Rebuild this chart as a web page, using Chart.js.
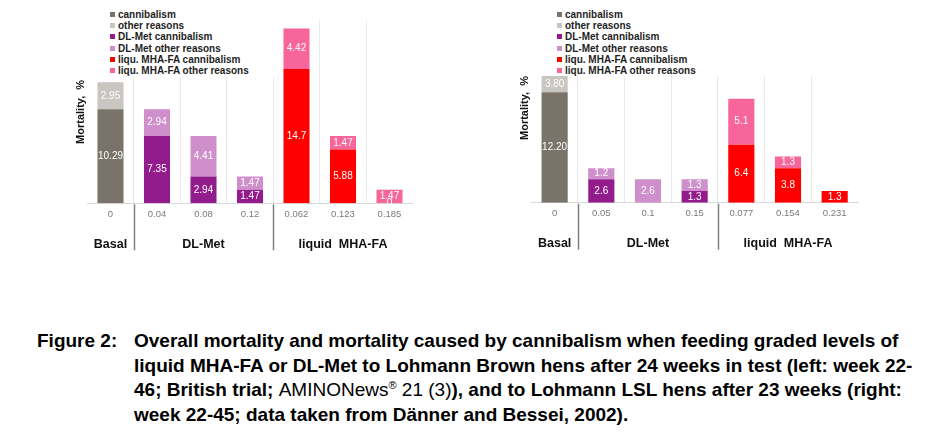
<!DOCTYPE html>
<html>
<head>
<meta charset="utf-8">
<script src="https://cdn.jsdelivr.net/npm/chart.js@4.4.0/dist/chart.umd.min.js"></script>
<style>
  body { margin: 0; background: #fff; width: 945px; height: 441px; overflow: hidden; position: relative; }
  .panel { position: absolute; top: 0; }
  .legend { position: absolute; background: #fff; font: bold 10px "Liberation Sans", Arial, sans-serif; color: #1e1e1e; }
  .legend div { height: 11.2px; line-height: 11.2px; white-space: nowrap; }
  .legend span { display: inline-block; width: 5px; height: 5px; margin-right: 3px; vertical-align: 1px; }
  .caption { position: absolute; font: bold 19px "Liberation Sans Narrow", "Liberation Sans", sans-serif; color: #000; }
  .caption div { height: 24.5px; line-height: 24.5px; white-space: nowrap; }
  .caption .reg { font-weight: normal; }
  .caption sup { font-size: 11px; line-height: 0; }
</style>
</head>
<body>
<div class="panel" style="left:0px;width:460px;height:300px"><canvas id="left" width="460" height="300"></canvas></div>
<div class="panel" style="left:460px;width:485px;height:300px"><canvas id="right" width="485" height="300"></canvas></div>
<div class="legend" id="legendLeft" style="left:110px;top:9px;width:170px"></div>
<div class="legend" id="legendRight" style="left:540px;top:9px;width:160px;padding-left:17px;box-sizing:border-box"></div>

<div class="caption" style="left:37px;top:329px"><div>Figure 2:</div></div>
<div class="caption" style="left:134px;top:329px">
  <div>Overall mortality and mortality caused by cannibalism when feeding graded levels of</div>
  <div>liquid MHA-FA or DL-Met to Lohmann Brown hens after 24 weeks in test (left: week 22-</div>
  <div>46; British trial; <span class="reg">AMINONews<sup>®</sup> 21 (3)</span>), and to Lohmann LSL hens after 23 weeks (right:</div>
  <div>week 22-45; data taken from Dänner and Bessei, 2002).</div>
</div>

<script>
// series names and colours
const seriesNames = ['cannibalism', 'other reasons', 'DL-Met cannibalism', 'DL-Met other reasons',
  'liqu. MHA-FA cannibalism', 'liqu. MHA-FA other  reasons'];
const seriesColors = ['#797369', '#c9c5c1', '#931c8c', '#cf8fcb', '#fe0000', '#f7659a'];

// groups under the x axis
const groupNames = ['Basal', 'DL-Met', 'liquid  MHA-FA'];
const groupSpans = [[0, 0], [1, 3], [4, 6]];

// left: Lohmann Brown, week 22-46
const leftLevels = ['0', '0.04', '0.08', '0.12', '0.062', '0.123', '0.185'];
const leftCannibalism = [10.29, null, null, null, null, null, null];
const leftOther = [2.95, null, null, null, null, null, null];
const leftDlCannibalism = [null, 7.35, 2.94, 1.47, null, null, null];
const leftDlOther = [null, 2.94, 4.41, 1.47, null, null, null];
const leftMhaCannibalism = [null, null, null, null, 14.7, 5.88, 0];
const leftMhaOther = [null, null, null, null, 4.42, 1.47, 1.47];

// right: Lohmann LSL, week 22-45
const rightLevels = ['0', '0.05', '0.1', '0.15', '0.077', '0.154', '0.231'];
const rightCannibalism = [12.20, null, null, null, null, null, null];
const rightOther = [3.80, null, null, null, null, null, null];
const rightDlCannibalism = [null, 2.6, null, 1.3, null, null, null];
const rightDlOther = [null, 1.2, 2.6, 1.3, null, null, null];
const rightMhaCannibalism = [null, null, null, null, 6.4, 3.8, 1.3];
const rightMhaOther = [null, null, null, null, 5.1, 1.3, null];

const FONT = '"Liberation Sans", Arial, sans-serif';

// white value labels in the middle of each visible segment
const segmentLabels = {
  id: 'segmentLabels',
  afterDatasetsDraw(chart) {
    const { ctx, chartArea } = chart;
    ctx.save();
    ctx.font = '10px ' + FONT;
    ctx.fillStyle = '#ffffff';
    ctx.textAlign = 'center';
    ctx.textBaseline = 'middle';
    chart.data.datasets.forEach((ds, i) => {
      chart.getDatasetMeta(i).data.forEach((bar, j) => {
        const v = ds.data[j];
        if (v === null || v === undefined) return;
        const top = Math.max(bar.y, chartArea.top);
        const txt = ds.digits ? v.toFixed(ds.digits) : String(v);
        ctx.fillText(txt, bar.x, (top + bar.base) / 2);
      });
    });
    ctx.restore();
  }
};

// group names and separators below the tick labels
const groupAxis = {
  id: 'groupAxis',
  afterDraw(chart) {
    const { ctx, chartArea } = chart;
    const x = chart.scales.x;
    const base = chartArea.bottom;
    ctx.save();
    ctx.font = 'bold 12.5px ' + FONT;
    ctx.fillStyle = '#111';
    ctx.textAlign = 'center';
    ctx.textBaseline = 'middle';
    ctx.strokeStyle = '#7f7f7f';
    ctx.lineWidth = 1.5;
    groupSpans.forEach((span, k) => {
      const xs = x.getPixelForValue(span[0]);
      const xe = x.getPixelForValue(span[1]);
      ctx.fillText(groupNames[k], (xs + xe) / 2, base + 41);
      if (k > 0) {
        const sx = Math.round((x.getPixelForValue(span[0] - 1) + xs) / 2) + 0.5;
        ctx.beginPath();
        ctx.moveTo(sx, base + 1);
        ctx.lineTo(sx, base + 47);
        ctx.stroke();
      }
    });
    ctx.restore();
  }
};

function buildDatasets(values, basalDigits) {
  return values.map((data, i) => ({
    label: seriesNames[i],
    data: data,
    backgroundColor: seriesColors[i],
    barPercentage: 0.56,
    categoryPercentage: 1.0,
    digits: i < 2 ? basalDigits : 0
  }));
}

function makeChart(id, labels, values, yMax, pad, axisW, basalDigits, titleAlign) {
  const ctx = document.getElementById(id).getContext('2d');
  return new Chart(ctx, {
    type: 'bar',
    data: { labels: labels, datasets: buildDatasets(values, basalDigits) },
    options: {
      responsive: false,
      animation: false,
      layout: { padding: pad },
      plugins: { legend: { display: false }, tooltip: { enabled: false } },
      scales: {
        x: {
          stacked: true,
          afterFit: s => { s.height = 60; },
          grid: {
            drawTicks: false,
            color: c => (c.index > 0 && c.index < labels.length) ? '#e9e9e9' : 'rgba(0,0,0,0)'
          },
          border: { color: '#d9d9d9' },
          ticks: { color: '#7a7a7a', font: { family: FONT, size: 9.5 }, padding: 5 }
        },
        y: {
          stacked: true,
          min: 0,
          max: yMax,
          afterFit: s => { s.width = axisW; },
          grid: { display: false },
          border: { display: false },
          ticks: { display: false },
          title: {
            display: true,
            text: 'Mortality,  %',
            align: titleAlign,
            color: '#111',
            font: { family: FONT, size: 11, weight: 'bold' },
            padding: { top: 4, bottom: 4 }
          }
        }
      }
    },
    plugins: [segmentLabels, groupAxis]
  });
}

function makeLegend(id) {
  const el = document.getElementById(id);
  seriesNames.forEach((name, i) => {
    const row = document.createElement('div');
    const sw = document.createElement('span');
    sw.style.background = seriesColors[i];
    row.appendChild(sw);
    row.appendChild(document.createTextNode(name));
    el.appendChild(row);
  });
}

makeChart('left', leftLevels,
  [leftCannibalism, leftOther, leftDlCannibalism, leftDlOther, leftMhaCannibalism, leftMhaOther],
  20, { left: 70, right: 47.25, top: 20.5, bottom: 36.7 }, 17.25, 0, 'center');

makeChart('right', rightLevels,
  [rightCannibalism, rightOther, rightDlCannibalism, rightDlOther, rightMhaCannibalism, rightMhaOther],
  14, { left: 54, right: 87, top: 76, bottom: 37.3 }, 17.3, 2, 'end');

makeLegend('legendLeft');
makeLegend('legendRight');
</script>
</body>
</html>
